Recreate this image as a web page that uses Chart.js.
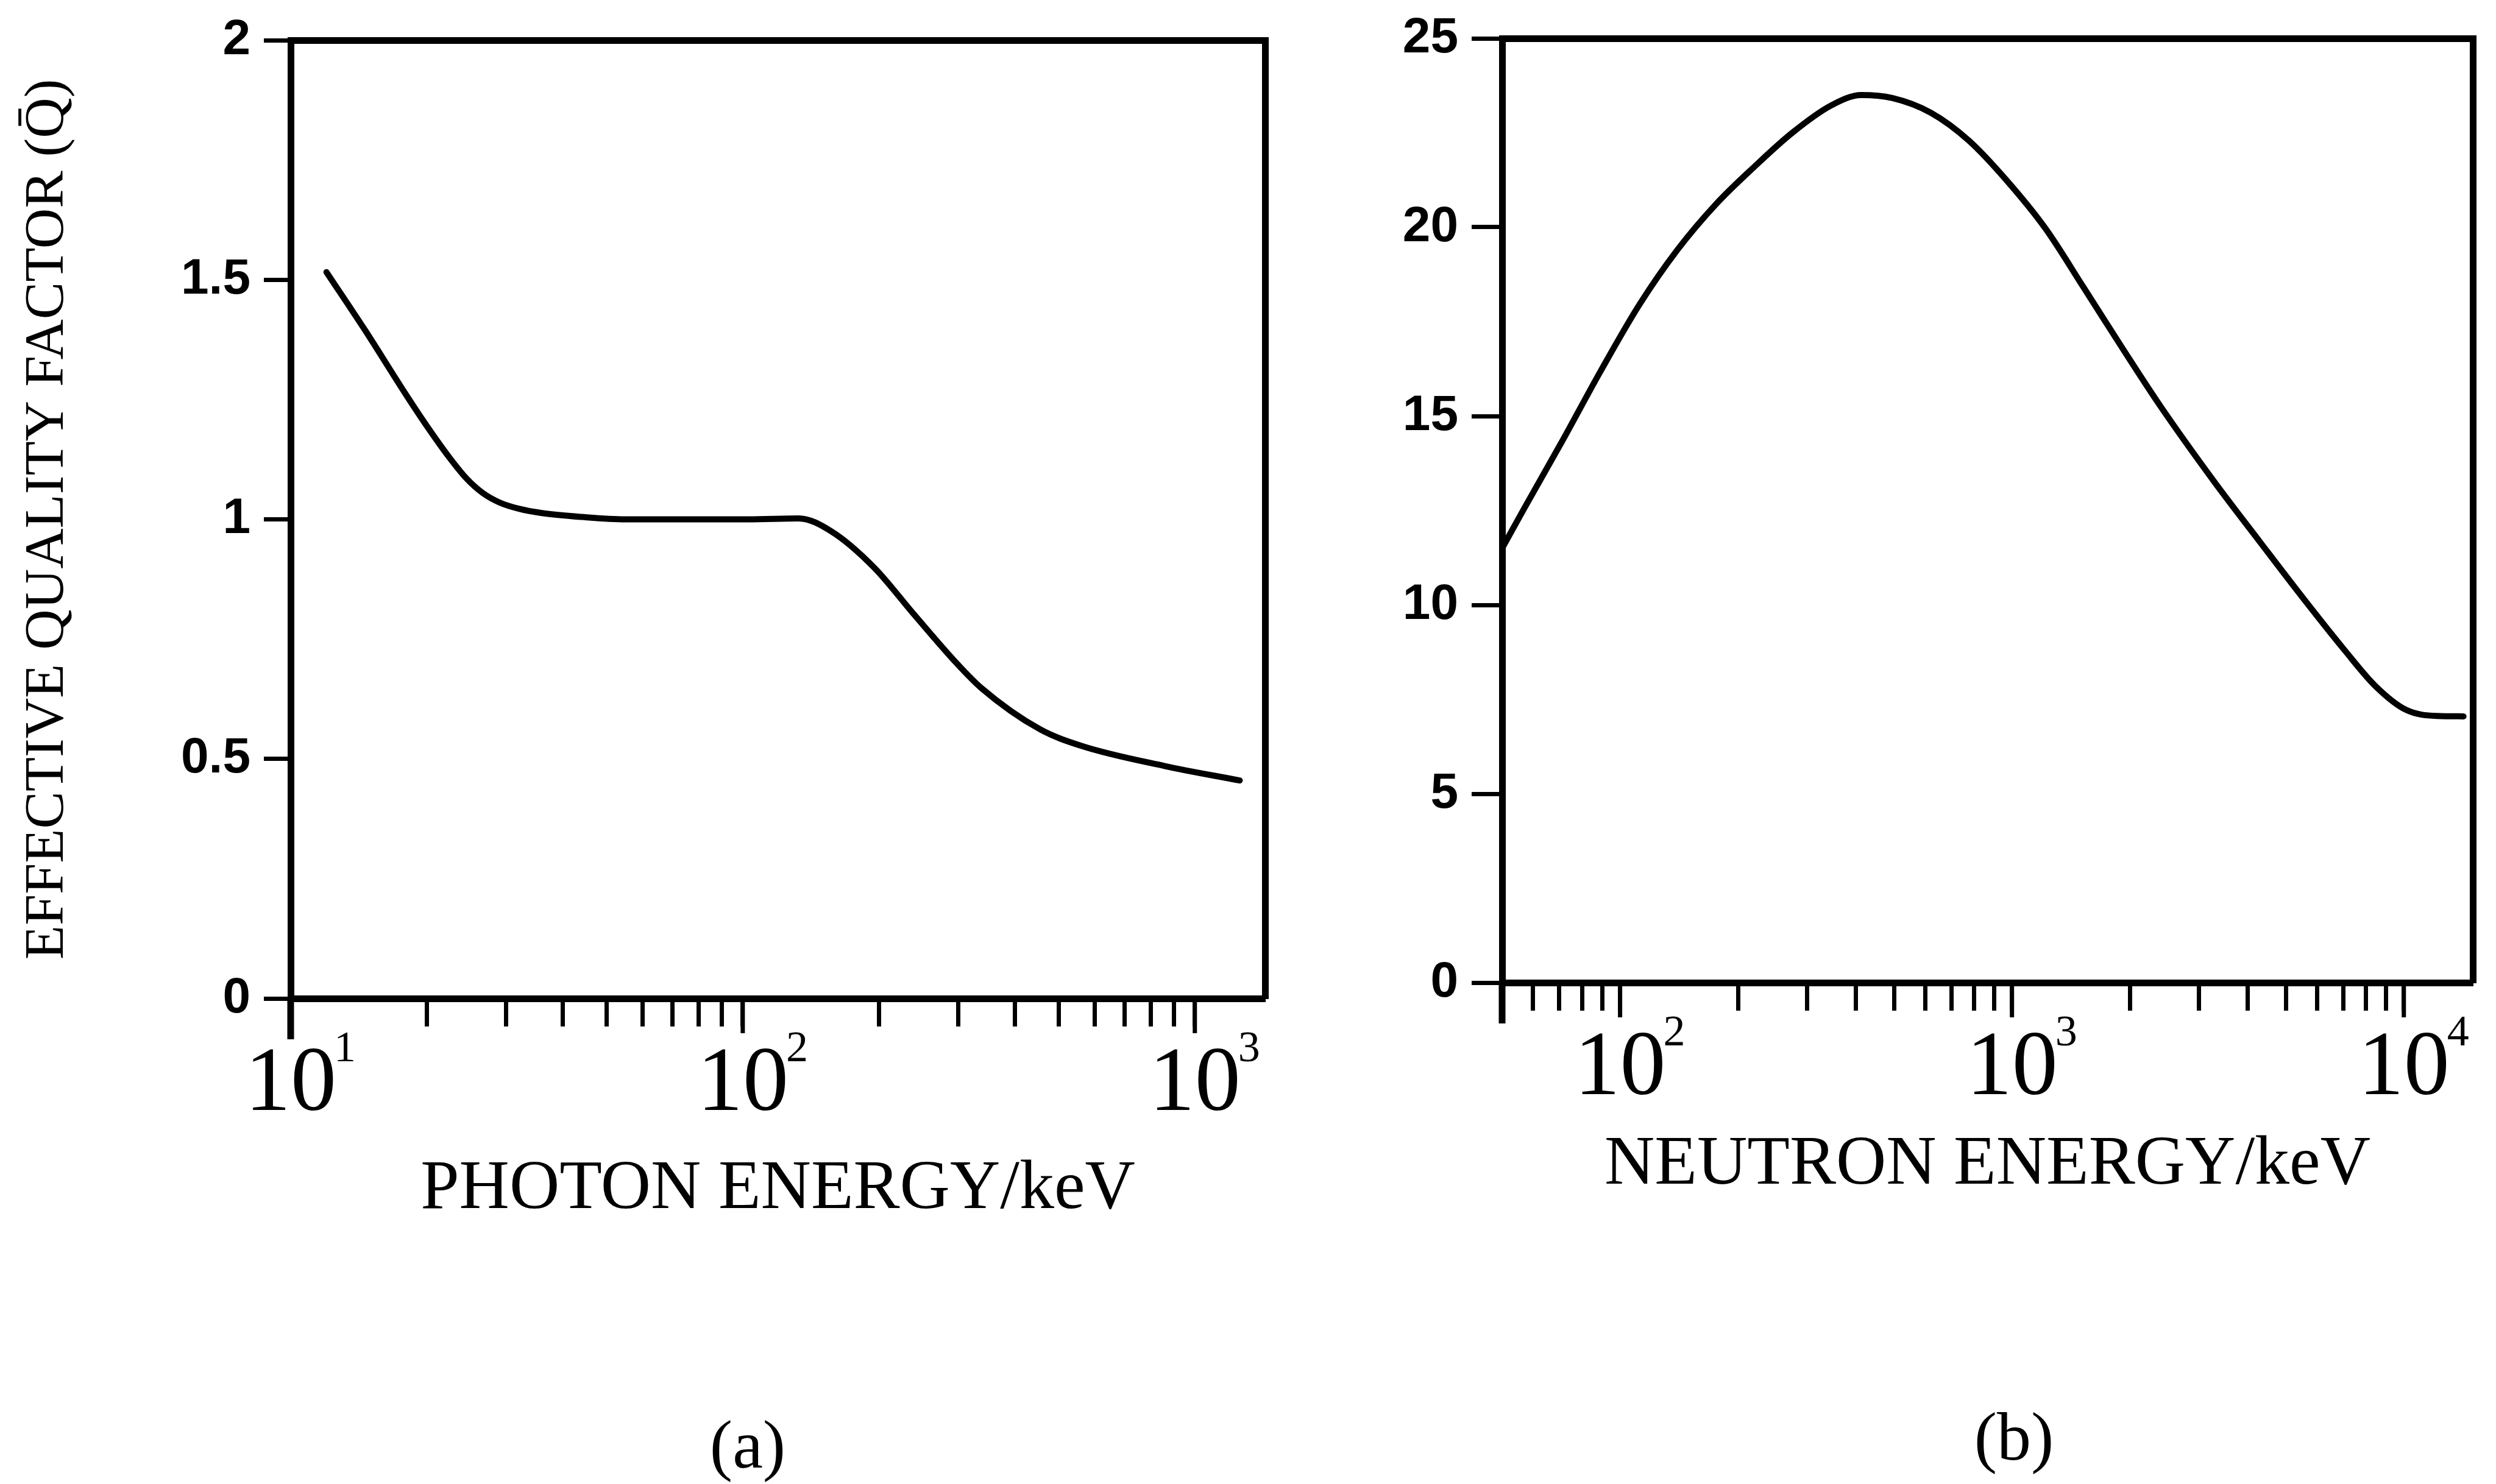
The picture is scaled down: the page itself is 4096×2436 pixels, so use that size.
<!DOCTYPE html>
<html><head><meta charset="utf-8">
<script src="https://cdn.jsdelivr.net/npm/chart.js@4.4.0/dist/chart.umd.min.js"></script>
<style>
html,body{margin:0;padding:0;background:#fff;width:4096px;height:2436px;overflow:hidden;}
.wrap{position:absolute;}
.cap{position:absolute;font-family:"Liberation Serif",serif;font-size:112px;line-height:112px;width:400px;text-align:center;color:#000;}
</style></head><body>
<div class="wrap" style="left:0;top:0;width:2300px;height:2100px"><canvas id="ca" width="2300" height="2100"></canvas></div>
<div class="wrap" style="left:2300px;top:0;width:1796px;height:2100px"><canvas id="cb" width="1796" height="2100"></canvas></div>
<div class="cap" style="left:1027px;top:2315px">(a)</div>
<div class="cap" style="left:3105px;top:2302px">(b)</div>
<script>
// ---------- data ----------
const photonEnergy = [12, 14.6, 18, 20, 22.4, 24.5, 26.6, 29, 32, 36, 44, 55, 67, 103, 133, 157, 195, 240, 297, 337, 454, 562, 859, 1257];
const photonQ      = [1.516, 1.395, 1.26, 1.195, 1.13, 1.085, 1.055, 1.035, 1.022, 1.013, 1.005, 1.0, 1.0, 1.0, 1.002, 0.975, 0.90, 0.80, 0.70, 0.648, 0.562, 0.527, 0.485, 0.455];

const neutronEnergy = [50, 56.9, 71.3, 89.3, 112, 140, 176, 220, 275, 345, 413, 495, 621, 777, 973, 1219, 1527, 1913, 2397, 3289, 4307, 5640, 7063, 8465, 10140, 12140, 14200];
const neutronQ      = [11.5, 12.55, 14.35, 16.2, 17.95, 19.4, 20.62, 21.6, 22.5, 23.22, 23.5, 23.42, 23.03, 22.29, 21.22, 19.96, 18.39, 16.80, 15.25, 13.25, 11.65, 10.07, 8.80, 7.85, 7.22, 7.06, 7.05];

const photonXTicks  = [10, 20, 30, 40, 50, 60, 70, 80, 90, 100, 200, 300, 400, 500, 600, 700, 800, 900, 1000];
const neutronXTicks = [60, 70, 80, 90, 100, 200, 300, 400, 500, 600, 700, 800, 900, 1000, 2000, 3000, 4000, 5000, 6000, 7000, 8000, 9000, 10000];
const photonYTicks  = [0, 0.5, 1, 1.5, 2];
const neutronYTicks = [0, 5, 10, 15, 20, 25];

const photonXTitle  = 'PHOTON ENERGY/keV';
const neutronXTitle = 'NEUTRON ENERGY/keV';
const yTitle        = 'EFFECTIVE QUALITY FACTOR (Q\u0304)';

// ---------- helpers ----------
function isDecade(v) { const l = Math.log10(v); return Math.abs(l - Math.round(l)) < 1e-9; }

const decor = {
  id: 'decor',
  afterDraw(chart) {
    const o = chart.options.plugins.decor;
    const ctx = chart.ctx, xs = chart.scales.x, a = chart.chartArea;
    ctx.save();
    ctx.strokeStyle = '#000';
    ctx.lineCap = 'butt';
    ctx.lineWidth = o.tickWidth;
    xs.ticks.forEach(t => {
      if (!isDecade(t.value)) return;
      const px = xs.getPixelForValue(t.value);
      ctx.beginPath(); ctx.moveTo(px, a.bottom); ctx.lineTo(px, a.bottom + o.majorLen); ctx.stroke();
    });
    ctx.lineWidth = o.axisWidth;
    ctx.beginPath(); ctx.moveTo(a.left, a.bottom); ctx.lineTo(a.left, a.bottom + o.axisExt); ctx.stroke();
    ctx.fillStyle = '#000';
    ctx.textBaseline = 'alphabetic';
    ctx.textAlign = 'left';
    ctx.font = o.baseFont;
    const w = ctx.measureText('10').width;
    ctx.font = o.supFont;
    xs.ticks.forEach(t => {
      if (!isDecade(t.value)) return;
      const px = xs.getPixelForValue(t.value);
      ctx.fillText(String(Math.round(Math.log10(t.value))), px + w / 2 - o.supOverlap, a.bottom + o.supBaseline);
    });
    ctx.restore();
  }
};

const SERIF = '"Liberation Serif", "Times New Roman", serif';
const SANS = '"Liberation Sans", Arial, sans-serif';

function makeChart(id, p) {
  const data = p.xs.map((x, i) => ({ x: x, y: p.ys[i] }));
  return new Chart(document.getElementById(id), {
    type: 'line',
    data: { datasets: [{ data: data, borderColor: '#000', borderWidth: 10, pointRadius: 0, fill: false,
      cubicInterpolationMode: 'monotone', borderCapStyle: 'round', borderJoinStyle: 'round' }] },
    plugins: [decor],
    options: {
      responsive: false, animation: false, devicePixelRatio: 1,
      layout: { padding: p.pad },
      plugins: {
        legend: { display: false }, tooltip: { enabled: false },
        decor: { tickWidth: 7, majorLen: 57, axisWidth: 11, axisExt: 67,
          baseFont: '150px ' + SERIF, supFont: '72px ' + SERIF, supOverlap: 4, supBaseline: 103 }
      },
      scales: {
        x: {
          type: 'logarithmic', position: 'bottom', min: p.xmin, max: p.xmax,
          afterBuildTicks: s => { s.ticks = p.xticks.map(v => ({ value: v })); },
          afterFit: s => { s.height = p.xh; },
          border: { display: true, color: '#000', width: 11 },
          grid: { drawOnChartArea: false, drawTicks: true, tickLength: 46, tickWidth: 7, tickColor: '#000' },
          ticks: { autoSkip: false, maxRotation: 0, minRotation: 0, padding: 23, color: '#000',
            font: { family: SERIF, size: 150, lineHeight: 1 },
            callback: v => isDecade(v) ? '10' : '' },
          title: { display: true, text: p.xtitle, color: '#000',
            font: { family: SERIF, size: 114, lineHeight: 1.2 }, padding: { top: 0, bottom: p.xtpad } }
        },
        x2: {
          type: 'logarithmic', position: 'top', min: p.xmin, max: p.xmax,
          afterFit: s => { s.height = 0; },
          border: { display: true, color: '#000', width: 11 },
          grid: { drawOnChartArea: false, drawTicks: false },
          ticks: { display: false }
        },
        y: {
          type: 'linear', position: 'left', min: p.ymin, max: p.ymax,
          afterBuildTicks: s => { s.ticks = p.yticks.map(v => ({ value: v })); },
          afterFit: s => { s.width = p.yw; },
          border: { display: true, color: '#000', width: 11 },
          grid: { drawOnChartArea: false, drawTicks: true, tickLength: p.ytl, tickWidth: 7, tickColor: '#000' },
          ticks: { padding: 22, color: '#000', font: { family: SANS, size: 82, weight: 'bold', lineHeight: 1 },
            callback: v => String(v) },
          title: { display: !!p.ytitle, text: p.ytitle || '', color: '#000',
            font: { family: SERIF, size: 92, lineHeight: 1.2 }, padding: { top: 24, bottom: 0 } }
        },
        y2: {
          type: 'linear', position: 'right', min: p.ymin, max: p.ymax,
          afterFit: s => { s.width = 0; },
          border: { display: true, color: '#000', width: 11 },
          grid: { drawOnChartArea: false, drawTicks: false },
          ticks: { display: false }
        }
      }
    }
  });
}

makeChart('ca', {
  xs: photonEnergy, ys: photonQ, xmin: 10, xmax: 1430, ymin: 0, ymax: 2,
  xticks: photonXTicks, yticks: photonYTicks, xtitle: photonXTitle, ytitle: yTitle,
  pad: { left: 0, top: 66, right: 224, bottom: 0 }, yw: 477, xh: 461, ytl: 44, xtpad: 79
});
makeChart('cb', {
  xs: neutronEnergy, ys: neutronQ, xmin: 50, xmax: 15000, ymin: 0, ymax: 25,
  xticks: neutronXTicks, yticks: neutronYTicks, xtitle: neutronXTitle, ytitle: null,
  pad: { left: 0, top: 44, right: 38, bottom: 0 }, yw: 165, xh: 487, ytl: 50, xtpad: 119
});
</script>
</body></html>
